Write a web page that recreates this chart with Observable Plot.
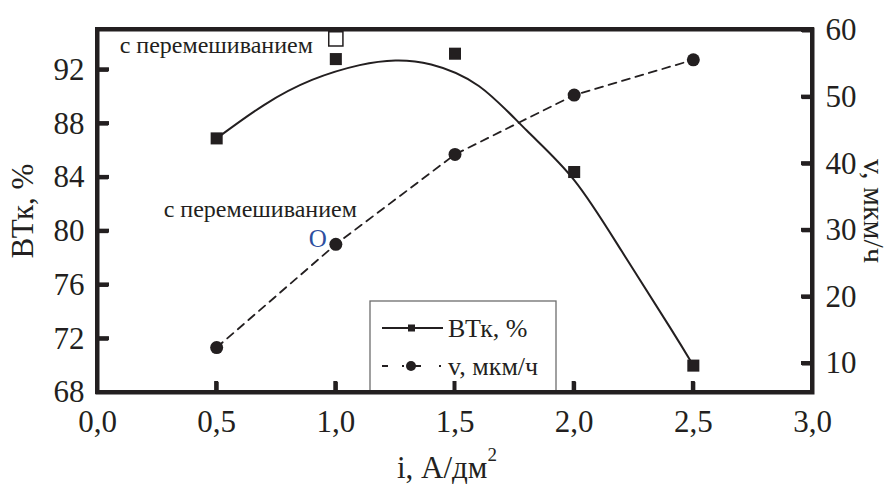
<!DOCTYPE html>
<html><head><meta charset="utf-8">
<script src="https://cdn.jsdelivr.net/npm/d3@7"></script>
<script src="https://cdn.jsdelivr.net/npm/@observablehq/plot@0.6"></script>
<style>body{margin:0;background:#fff} svg{display:block}</style>
</head><body><div id="chart"></div>
<script>
// ---- data ----
const currentDensity = [0.5, 1.0, 1.5, 2.0, 2.5];            // i, A/dm2
const btkValues      = [86.9, 92.8, 93.2, 84.4, 70.0];       // ВТк, %
const speedValues    = [12.4, 27.9, 41.4, 50.3, 55.6];       // v, мкм/ч
const fitDensity     = [0.5, 0.7, 0.9, 1.1, 1.25, 1.4, 1.6, 1.8, 2.0, 2.2, 2.4, 2.5];
const fitBtk         = [86.9, 89.4, 91.25, 92.35, 92.7, 92.4, 90.8, 87.5, 83.8, 78.5, 72.9, 70.0];
const stirredDensity = [1.0];
const stirredBtk     = [94.3];
const xTicks     = [0, 0.5, 1.0, 1.5, 2.0, 2.5, 3.0];
const leftTicks  = [68, 72, 76, 80, 84, 88, 92];
const rightTicks = [10, 20, 30, 40, 50, 60];
const xLabel = "i, А/дм";
const leftLabel = "ВТк, %";
const rightLabel = "v, мкм/ч";
const noteText = "с перемешиванием";
const legendLabels = ["ВТк, %", "v, мкм/ч"];

const ink = "#231f20";
const font = "Liberation Serif, Times New Roman, serif";

// right axis (v) mapped onto the left axis (ВТк) range
const vToY = d3.scaleLinear([5.65, 60.15], [68, 95]);

const pts = currentDensity.map((x, k) => ({x, btk: btkValues[k], v: vToY(speedValues[k])}));
const fit = fitDensity.map((x, k) => ({x, y: fitBtk[k]}));
const stirred = stirredDensity.map((x, k) => ({x, y: stirredBtk[k]}));
const vAt1 = pts.filter(d => d.x === 1.0);

const fmt = d => d.toFixed(1).replace(".", ",");
const W = 890, H = 484, mL = 97, mR = 78, mT = 29, mB = 92;
const fw = W - mL - mR, fh = H - mT - mB;

const plot = Plot.plot({
  width: W, height: H,
  marginLeft: mL, marginRight: mR, marginTop: mT, marginBottom: mB,
  x: {domain: [0, 3]},
  y: {domain: [68, 95]},
  style: {fontFamily: font, color: ink, background: "#fff", overflow: "visible"},
  marks: [
    Plot.axisX(xTicks, {tickSize: 0, tickPadding: 17, tickFormat: fmt, fontSize: 31, fill: ink, label: null}),
    Plot.axisY(leftTicks, {tickSize: 0, tickPadding: 13, fontSize: 31, fill: ink, label: null}),
    Plot.axisY(rightTicks.map(vToY), {anchor: "right", tickSize: 0, tickPadding: 13, fontSize: 31, fill: ink,
      tickFormat: y => String(Math.round(vToY.invert(y))), label: null}),
    // ticks pointing inward
    Plot.tickX(xTicks.slice(1, -1), {x: d => d, insetTop: fh - 10, stroke: ink, strokeWidth: 4}),
    Plot.tickY(leftTicks.slice(1), {y: d => d, insetRight: fw - 11, stroke: ink, strokeWidth: 4}),
    Plot.tickY(rightTicks.map(vToY), {y: d => d, insetLeft: fw - 10, stroke: ink, strokeWidth: 4}),
    Plot.frame({stroke: ink, strokeWidth: 4}),
    // fitted ВТк curve
    Plot.line(fit, {x: "x", y: "y", curve: "natural", stroke: ink, strokeWidth: 2}),
    // v dashed line
    Plot.line(pts, {x: "x", y: "v", stroke: ink, strokeWidth: 1.8, strokeDasharray: "8,6"}),
    Plot.dot(pts, {x: "x", y: "btk", symbol: "square", r: 6.8, fill: ink}),
    Plot.dot(pts, {x: "x", y: "v", r: 6.5, fill: ink}),
    Plot.dot(stirred, {x: "x", y: "y", symbol: "square", r: 8, fill: "#fff", stroke: ink, strokeWidth: 1.5}),
    Plot.text(stirred, {x: "x", y: "y", text: () => noteText, textAnchor: "end", dx: -23, dy: 6, fontSize: 24, fill: ink}),
    Plot.text(vAt1, {x: "x", y: "v", text: () => noteText, textAnchor: "end", dx: 21, dy: -35, fontSize: 24, fill: ink}),
    Plot.text(vAt1, {x: "x", y: "v", text: () => "O", dx: -18, dy: -5, fontSize: 25, fill: "#2f4f9f"}),
    // axis titles
    Plot.text([leftLabel], {frameAnchor: "left", textAnchor: "middle", dx: -74, rotate: -90, fontSize: 31, fill: ink}),
    Plot.text([rightLabel], {frameAnchor: "right", textAnchor: "middle", dx: 61, rotate: 90, fontSize: 30, fill: ink})
  ]
});

document.getElementById("chart").append(plot);

const svg = d3.select(plot);
const sx = plot.scale("x"), sy = plot.scale("y");
const bottom = H - mB, right = W - mR;

// legend box
const lg = svg.append("g").attr("text-anchor", "start");
lg.append("rect").attr("x", 370).attr("y", 301).attr("width", 186).attr("height", 91)
  .attr("fill", "#fff").attr("stroke", "#6d6d6d").attr("stroke-width", 1.3);
lg.append("line").attr("x1", 382).attr("x2", 443).attr("y1", 328).attr("y2", 328)
  .attr("stroke", ink).attr("stroke-width", 2);
lg.append("rect").attr("x", 408).attr("y", 324.5).attr("width", 7).attr("height", 7).attr("fill", ink);
lg.append("line").attr("x1", 382).attr("x2", 443).attr("y1", 366).attr("y2", 366)
  .attr("stroke", ink).attr("stroke-width", 2).attr("stroke-dasharray", "6 14 2 11 6 18 2");
lg.append("circle").attr("cx", 411).attr("cy", 366).attr("r", 5).attr("fill", ink);
legendLabels.forEach((s, k) => {
  lg.append("text").attr("x", 448).attr("y", k ? 366 : 328).attr("dy", "0.35em")
    .attr("text-anchor", "start")
    .attr("font-family", font).attr("font-size", 26).attr("fill", ink).text(s);
});

// frame edges and inward ticks as filled bars, placed with Plot's own scales
const ax = svg.append("g").attr("fill", ink).attr("stroke", "none");
const bar = (x, y, w, h) => ax.append("rect").attr("x", x).attr("y", y).attr("width", w).attr("height", h);
bar(mL - 2, mT - 2, fw + 4, 4);          // top
bar(mL - 2, bottom - 2, fw + 4, 4);      // bottom
bar(mL - 2, mT - 2, 4, fh + 4);          // left
bar(right - 2, mT - 2, 4, fh + 4);       // right
xTicks.slice(1, -1).forEach(v => bar(sx.apply(v) - 2, bottom - 11, 4, 11));
leftTicks.slice(1).forEach(v => bar(mL, sy.apply(v) - 2, 12, 4));
rightTicks.forEach(v => bar(right - 11, sy.apply(vToY(v)) - 2, 11, 4));

// x title with superscript
const t = svg.append("text").attr("x", 447).attr("y", 478).attr("text-anchor", "middle")
  .attr("font-family", font).attr("font-size", 31).attr("fill", ink).text(xLabel);
t.append("tspan").attr("dy", -17).attr("font-size", 19).text("2");
</script>
</body></html>
